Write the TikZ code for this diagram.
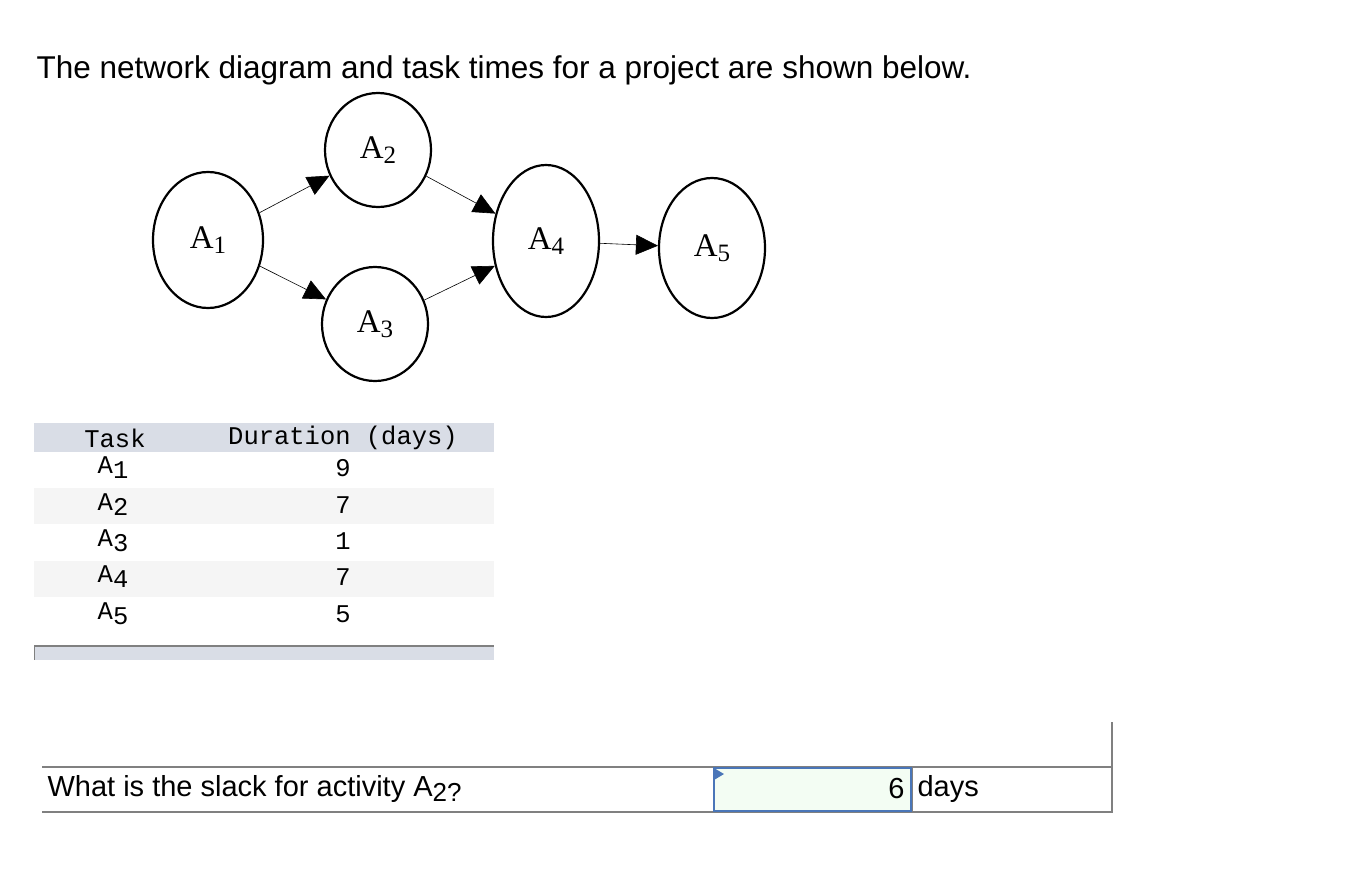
\documentclass[tikz,border=0pt]{standalone}
\usepackage{fontspec}
\setmainfont{Liberation Sans}
\newfontfamily\serf{Liberation Serif}
\newfontfamily\mono{Liberation Mono}
\usetikzlibrary{arrows.meta,shapes.geometric}
\definecolor{hdr}{HTML}{D9DDE6}
\definecolor{alt}{HTML}{F5F5F5}
\definecolor{grn}{HTML}{F3FDF3}
\definecolor{blu}{HTML}{4A76B8}
\newcommand{\lbl}[1]{{\serf\fontsize{33}{33}\selectfont A\raisebox{-5pt}{\fontsize{25}{25}\selectfont #1}}}
\begin{document}
\begin{tikzpicture}[x=1pt,y=-1pt,
  ev/.style={draw,line width=2.2pt,ellipse,inner sep=0pt},
  arr/.style={line width=0.6pt,-{Triangle[length=22pt,width=20pt]}},
  tt/.style={font=\mono\fontsize{25.5}{25.5}\selectfont,anchor=center}]
\useasboundingbox (0,0) rectangle (1348,888);
\node[anchor=west,font=\fontsize{31.5}{31.5}\selectfont] (title) at (33,70) {The network diagram and task times for a project are shown below.};
\node[ev,minimum width=110pt,minimum height=136pt] (a1) at (208,240) {\lbl{1}};
\node[ev,minimum width=106pt,minimum height=114pt] (a2) at (378,150) {\lbl{2}};
\node[ev,minimum width=106pt,minimum height=114pt] (a3) at (375,324) {\lbl{3}};
\node[ev,minimum width=106pt,minimum height=152pt] (a4) at (546,241) {\lbl{4}};
\node[ev,minimum width=106pt,minimum height=140pt] (a5) at (712,248) {\lbl{5}};
\draw[arr] (a1) -- (a2);
\draw[arr] (a1) -- (a3);
\draw[arr] (a2) -- (a4);
\draw[arr] (a3) -- (a4);
\draw[arr] (a4) -- (a5);
% table
\fill[hdr] (34,423) rectangle (494,452);
\fill[alt] (34,488) rectangle (494,524);
\fill[alt] (34,561) rectangle (494,597);
\fill[hdr] (34,646) rectangle (494,660);
\draw[gray,line width=1.5pt] (34,646) -- (494,646);
\draw[gray,line width=1pt] (34.5,646) -- (34.5,660);
\node[tt] (th) at (115,438) {Task};
\node[tt] (dh) at (343,438) {Duration (days)};
\foreach \t/\d/\y in {1/468/470,2/7/507,3/1/543,4/7/579,5/5/616}{}
\foreach \t/\d/\y in {1/9/468,2/7/505,3/1/541,4/7/577,5/5/614}{
  \node[tt] (t\t) at (113,\y) {A\raisebox{-5pt}{\t}};
  \node[tt] (d\t) at (343,\y) {\d};
}
% question
\draw[gray,line width=1.2pt] (42,767) -- (1113,767);
\draw[gray,line width=1.2pt] (42,812) -- (1113,812);
\draw[gray,line width=1.2pt] (1112,722) -- (1112,812);
\draw[gray,line width=1.2pt] (912,767) -- (912,812);
\draw[fill=grn,draw=blu,line width=2pt] (714,768) rectangle (911,811);
\fill[blu] (714,768) -- (724,774) -- (714,780) -- cycle;
\node[anchor=west,font=\fontsize{29}{29}\selectfont] (q) at (44,789) {What is the slack for activity A\raisebox{-5pt}{\fontsize{26}{26}\selectfont 2?}};
\node[anchor=east,font=\fontsize{29}{29}\selectfont] (ans) at (908,789) {6};
\node[anchor=west,font=\fontsize{29}{29}\selectfont] (days) at (914,789) {days};
\end{tikzpicture}
\end{document}
